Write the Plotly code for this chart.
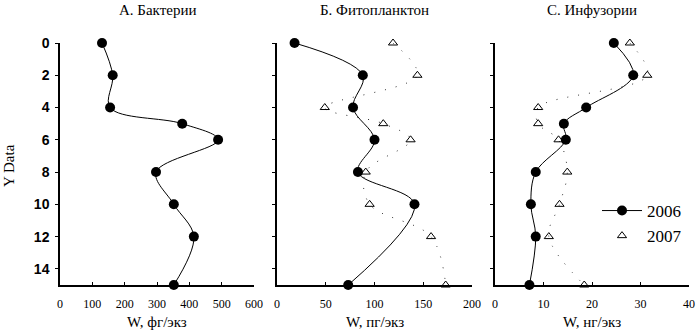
import plotly.graph_objects as go

# ---- data ----
depth_a = [0, 2, 4, 5, 6, 8, 10, 12, 15]
bact_2006 = [130, 163, 155, 378, 489, 297, 352, 414, 352]

depth_b06 = [0, 2, 4, 6, 8, 10, 15]
phyto_2006 = [18, 88, 78, 100, 83, 141, 73]
depth_b07 = [0, 2, 4, 5, 6, 8, 10, 12, 15]
phyto_2007 = [119, 144, 49, 109, 137, 91, 95, 158, 173]

depth_c = [0, 2, 4, 5, 6, 8, 10, 12, 15]
cil_2006 = [24.5, 28.5, 18.8, 14.2, 14.6, 8.4, 7.4, 8.4, 7.1]
cil_2007 = [27.8, 31.4, 8.9, 8.9, 13.1, 14.9, 13.3, 11.1, 18.4]

titles = ["А. Бактерии", "Б. Фитопланктон", "С. Инфузории"]
xtitles = ["W, фг/экз", "W, пг/экз", "W, нг/экз"]
ytitle = "Y Data"
xranges = [[0, 600], [0, 200], [0, 40]]
xdticks = [100, 50, 10]
ytick_vals = [0, 2, 4, 6, 8, 10, 12, 14]

SERIF = "Liberation Serif"
W, H = 696, 331
ml, mr, mt, mb = 60, 7, 43, 46
pw = W - ml - mr
ph = H - mt - mb
px = lambda p: (p - ml) / pw
py = lambda p: 1 - (p - mt) / ph
domains = [[px(60), px(254)], [px(277), px(472)], [px(495), px(689)]]

fig = go.Figure()

def line06(x, y, ax, show):
    fig.add_trace(go.Scatter(
        x=x, y=y, xaxis=ax[0], yaxis=ax[1], mode="lines+markers", name="2006",
        line=dict(color="black", width=1, shape="spline"),
        marker=dict(symbol="circle", size=10, color="black"),
        showlegend=show, legendgroup="2006", cliponaxis=False))

def pts07(x, y, ax, show):
    fig.add_trace(go.Scatter(
        x=x, y=y, xaxis=ax[0], yaxis=ax[1], mode="lines", name="2007 line",
        line=dict(color="#333333", width=1, shape="spline", dash="1px,10px"),
        showlegend=False, hoverinfo="skip", cliponaxis=False))
    fig.add_trace(go.Scatter(
        x=x, y=y, xaxis=ax[0], yaxis=ax[1], mode="markers", name="2007",
        marker=dict(symbol="triangle-up-open", size=8, color="black",
                    line=dict(width=1, color="black")),
        showlegend=show, legendgroup="2007", cliponaxis=False))

line06(bact_2006, depth_a, ("x", "y"), False)
line06(phyto_2006, depth_b06, ("x2", "y2"), False)
pts07(phyto_2007, depth_b07, ("x2", "y2"), False)
line06(cil_2006, depth_c, ("x3", "y3"), True)
pts07(cil_2007, depth_c, ("x3", "y3"), True)

layout = dict(
    width=W, height=H,
    margin=dict(l=ml, r=mr, t=mt, b=mb, autoexpand=False),
    plot_bgcolor="white", paper_bgcolor="white",
    showlegend=True,
    legend=dict(x=px(597), y=py(193), xanchor="left", yanchor="top",
                font=dict(family=SERIF, size=17, color="black"),
                bgcolor="rgba(0,0,0,0)", tracegroupgap=0, itemwidth=40),
    annotations=[],
)

for i in range(3):
    xn = "xaxis" if i == 0 else f"xaxis{i+1}"
    yn = "yaxis" if i == 0 else f"yaxis{i+1}"
    yref = "y" if i == 0 else f"y{i+1}"
    layout[xn] = dict(
        domain=domains[i], range=xranges[i], anchor=yref, automargin=False,
        tick0=0, dtick=xdticks[i], ticks="inside", ticklen=3, tickwidth=1,
        tickcolor="black", showline=True, linecolor="black", linewidth=2,
        showgrid=False, zeroline=False, ticklabelstandoff=7,
        tickfont=dict(family=SERIF, size=12, color="black"),
    )
    layout[yn] = dict(
        domain=[0, 1], range=[15, 0], anchor="x" if i == 0 else f"x{i+1}",
        automargin=False,
        tickvals=ytick_vals, ticks="outside", ticklen=3, tickwidth=1,
        tickcolor="black", showline=True, linecolor="black", linewidth=1.5,
        showgrid=False, zeroline=False, showticklabels=(i == 0),
        ticklabelstandoff=3,
        tickfont=dict(family="Liberation Sans", size=14, color="black", weight="bold"),
    )
    cx = sum(domains[i]) / 2
    layout["annotations"].append(dict(
        text=titles[i], xref="paper", yref="paper",
        x=cx, y=py(10), xanchor="center", yanchor="middle",
        showarrow=False, font=dict(family=SERIF, size=15, color="black")))
    layout["annotations"].append(dict(
        text=xtitles[i], xref="paper", yref="paper",
        x=cx, y=py(322), xanchor="center", yanchor="middle",
        showarrow=False, font=dict(family=SERIF, size=15, color="black")))

layout["annotations"].append(dict(
    text=ytitle, xref="paper", yref="paper", textangle=-90,
    x=px(9), y=py(166), xanchor="center", yanchor="middle",
    showarrow=False, font=dict(family=SERIF, size=15, color="black")))

fig.update_layout(**layout)
fig.write_html("out.html", config={"displayModeBar": False},
               post_script="document.body.style.margin='0';document.body.style.overflow='hidden';")
